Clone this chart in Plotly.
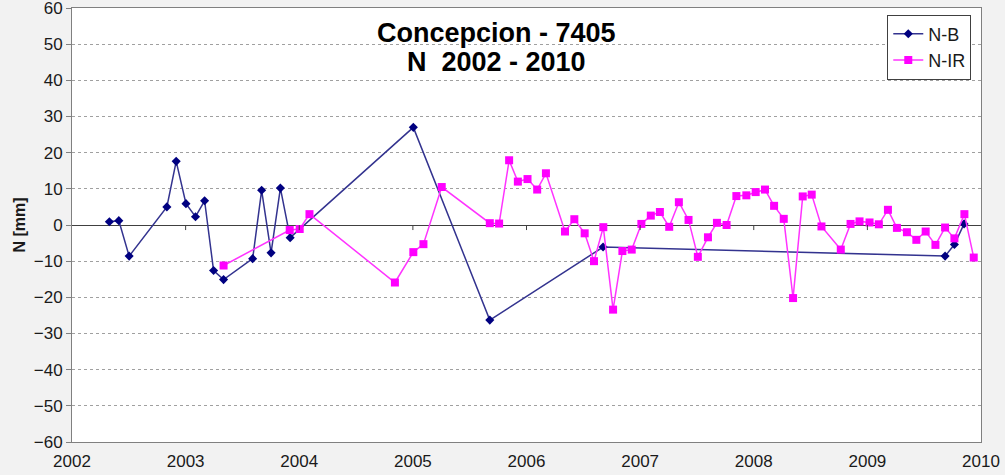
import plotly.graph_objects as go

# N-B series (decimal year, mm)
nb_t = [2002.329, 2002.412, 2002.503, 2002.835, 2002.917, 2003.003, 2003.087, 2003.167,
        2003.246, 2003.334, 2003.590, 2003.669, 2003.752, 2003.834, 2003.920,
        2005.004, 2005.677, 2006.674, 2009.684, 2009.766, 2009.851]
nb_v = [0.9, 1.2, -8.6, 5.0, 17.6, 5.9, 2.3, 6.7,
        -12.6, -15.1, -9.3, 9.6, -7.7, 10.2, -3.5,
        27.0, -26.3, -6.1, -8.6, -5.4, 0.3]

# N-IR series (decimal year, mm)
nir_t = [2003.334, 2003.916, 2004.004, 2004.090, 2004.842, 2005.004, 2005.093, 2005.254,
         2005.677, 2005.759, 2005.847, 2005.924, 2006.009, 2006.094, 2006.171, 2006.339,
         2006.421, 2006.512, 2006.594, 2006.676, 2006.762, 2006.844, 2006.926, 2007.011,
         2007.094, 2007.174, 2007.256, 2007.341, 2007.426, 2007.508, 2007.597, 2007.676,
         2007.761, 2007.847, 2007.935, 2008.017, 2008.099, 2008.179, 2008.264, 2008.346,
         2008.431, 2008.510, 2008.596, 2008.766, 2008.852, 2008.931, 2009.019, 2009.101,
         2009.181, 2009.260, 2009.348, 2009.431, 2009.513, 2009.599, 2009.684, 2009.766,
         2009.854, 2009.936]
nir_v = [-11.2, -1.4, -1.1, 3.0, -15.9, -7.5, -5.3, 10.5,
         0.5, 0.4, 17.9, 12.0, 12.7, 9.8, 14.3, -1.8,
         1.6, -2.3, -10.0, -0.6, -23.4, -7.2, -6.8, 0.3,
         2.6, 3.6, -0.5, 6.3, 1.4, -8.8, -3.4, 0.6,
         0.0, 8.0, 8.2, 9.1, 9.8, 5.3, 1.7, -20.2,
         7.9, 8.4, -0.4, -6.8, 0.3, 1.0, 0.7, 0.2,
         4.2, -0.8, -2.0, -4.1, -1.8, -5.5, -0.7, -3.7,
         3.0, -9.0]

x_ticks = [2002, 2003, 2004, 2005, 2006, 2007, 2008, 2009, 2010]
y_ticks = [-60, -50, -40, -30, -20, -10, 0, 10, 20, 30, 40, 50, 60]

title_lines = ["Concepcion - 7405", "N  2002 - 2010"]

fig = go.Figure()
fig.add_trace(go.Scatter(
    x=nb_t, y=nb_v, mode="lines+markers", name="N-B",
    line=dict(color="#33338f", width=1.5),
    marker=dict(symbol="diamond", size=7, color="#000080"),
))
fig.add_trace(go.Scatter(
    x=nir_t, y=nir_v, mode="lines+markers", name="N-IR",
    line=dict(color="#ff33ff", width=1.5),
    marker=dict(symbol="square", size=8, color="#ff00ff"),
))

font_family = "Liberation Sans, Arial, sans-serif"

fig.update_layout(
    width=1005, height=475,
    margin=dict(l=72, r=24, t=8, b=33, autoexpand=False),
    paper_bgcolor="#f2f2f2",
    plot_bgcolor="white",
    font=dict(family=font_family, size=17, color="#1a1a1a"),
    showlegend=True,
    legend=dict(
        x=0.9893, y=0.985, xanchor="right", yanchor="top",
        bgcolor="white", bordercolor="#404040", borderwidth=1,
        font=dict(size=18, color="#1a1a1a"),
        itemwidth=30,
    ),
    xaxis=dict(
        range=[2002, 2010], tickvals=x_ticks, ticktext=[str(t) for t in x_ticks],
        showgrid=False, zeroline=False, automargin=False, ticklabeloverflow="allow",
        showline=True, linecolor="#808080", linewidth=1, mirror=True,
        ticks="", ticklabelstandoff=4,
    ),
    yaxis=dict(
        range=[-60, 60], tickvals=y_ticks, automargin=False, ticklabeloverflow="allow",
        showgrid=True, gridcolor="#a0a0a0", griddash="dot", gridwidth=1,
        zeroline=True, zerolinecolor="#404040", zerolinewidth=1,
        showline=True, linecolor="#808080", linewidth=1, mirror=True,
        ticks="outside", ticklen=5, tickcolor="#808080",
        title=dict(text="<b>N [mm]</b>", font=dict(size=16), standoff=4),
    ),
)

# small tick marks on the zero line for each year
for t in x_ticks[1:-1]:
    fig.add_shape(type="line", xref="x", yref="y", x0=t, x1=t, y0=0, y1=-1.4,
                  line=dict(color="#404040", width=1))

# white box behind the title
fig.add_shape(type="rect", xref="paper", yref="paper", x0=0.3256, x1=0.605,
              y0=0.845, y1=0.99, fillcolor="white", line=dict(width=0), layer="between")

fig.add_annotation(
    xref="paper", yref="paper", x=0.4675, y=0.942, xanchor="center", yanchor="middle",
    text="<b>" + title_lines[0] + "</b>", showarrow=False,
    font=dict(size=27, color="#000000", family=font_family),
)
fig.add_annotation(
    xref="paper", yref="paper", x=0.4675, y=0.876, xanchor="center", yanchor="middle",
    text="<b>" + title_lines[1] + "</b>", showarrow=False,
    font=dict(size=27, color="#000000", family=font_family),
)

fig.write_html("out.html", config={"displayModeBar": False},
               post_script="document.body.style.margin='0';document.body.style.overflow='hidden';")
